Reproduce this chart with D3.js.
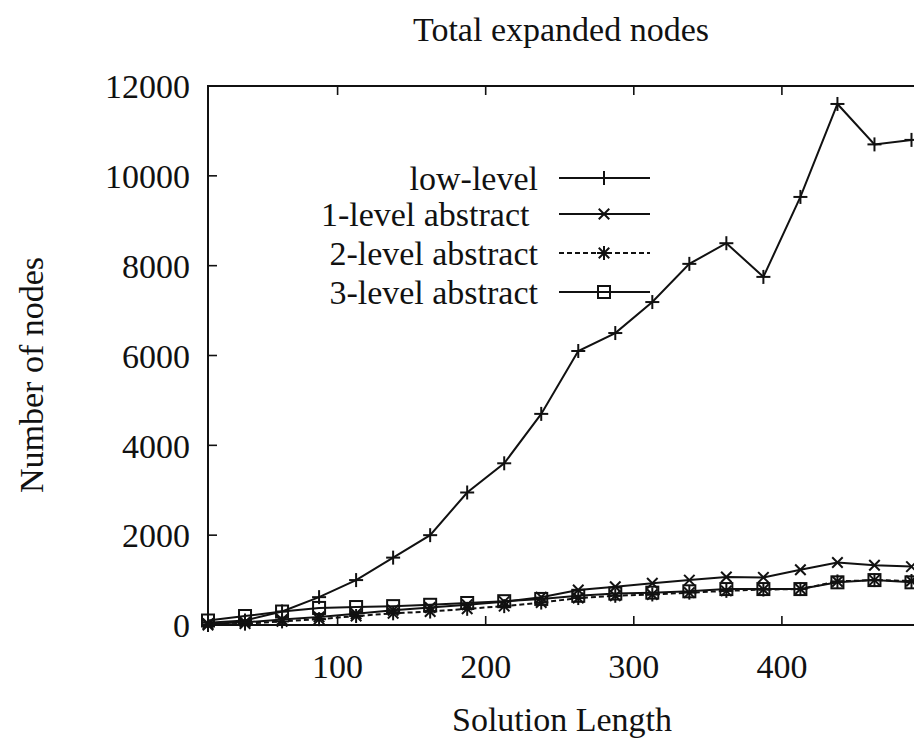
<!DOCTYPE html>
<html>
<head>
<meta charset="utf-8">
<script src="https://cdn.jsdelivr.net/npm/d3@7"></script>
<style>
  body { margin: 0; background: #fff; }
  text { font-family: "Liberation Serif", "DejaVu Serif", serif; fill: #111; }
</style>
</head>
<body>
<div id="chart"></div>
<script>
// solution length bins (x) and node counts per series
const lengths = [12.5, 37.5, 62.5, 87.5, 112.5, 137.5, 162.5, 187.5, 212.5, 237.5,
                 262.5, 287.5, 312.5, 337.5, 362.5, 387.5, 412.5, 437.5, 462.5, 487.5];
const lowLevel = [50, 100, 300, 620, 1000, 1500, 2000, 2950, 3600, 4700,
                  6100, 6500, 7190, 8040, 8500, 7750, 9530, 11600, 10700, 10800];
const level1 = [30, 60, 120, 180, 250, 330, 390, 450, 520, 620,
                780, 850, 930, 1000, 1070, 1060, 1230, 1390, 1330, 1300];
const level2 = [0, 30, 80, 130, 200, 260, 300, 360, 420, 500,
                600, 650, 680, 720, 760, 790, 800, 970, 1000, 980];
const level3 = [100, 200, 300, 380, 400, 420, 450, 490, 530, 580,
                650, 700, 720, 750, 800, 800, 800, 950, 1000, 950];
const seriesNames = ["low-level", "1-level abstract ", "2-level abstract", "3-level abstract"];
const xTicks = [100, 200, 300, 400];
const yTicks = [0, 2000, 4000, 6000, 8000, 10000, 12000];

const W = 914, H = 746;
const svg = d3.select("#chart").append("svg")
  .attr("width", W).attr("height", H)
  .style("background", "#fff");

const x = d3.scaleLinear().domain([12.5, 500]).range([208, 930]);
const y = d3.scaleLinear().domain([0, 12000]).range([625, 86]);

const tickLen = 9;
const fs = 34;

// frame
svg.append("rect")
  .attr("x", x(12.5)).attr("y", y(12000))
  .attr("width", x(500) - x(12.5)).attr("height", y(0) - y(12000))
  .attr("fill", "none").attr("stroke", "#111").attr("stroke-width", 2);

// ticks (mirrored, pointing inward)
xTicks.forEach(t => {
  svg.append("line").attr("x1", x(t)).attr("x2", x(t))
    .attr("y1", y(0)).attr("y2", y(0) - tickLen)
    .attr("stroke", "#111").attr("stroke-width", 1.6);
  svg.append("line").attr("x1", x(t)).attr("x2", x(t))
    .attr("y1", y(12000)).attr("y2", y(12000) + tickLen)
    .attr("stroke", "#111").attr("stroke-width", 1.6);
  svg.append("text").attr("x", x(t)).attr("y", 678)
    .attr("text-anchor", "middle").attr("font-size", fs).text(t);
});
yTicks.forEach(t => {
  svg.append("line").attr("x1", x(12.5)).attr("x2", x(12.5) + tickLen)
    .attr("y1", y(t)).attr("y2", y(t))
    .attr("stroke", "#111").attr("stroke-width", 1.6);
  svg.append("line").attr("x1", x(500)).attr("x2", x(500) - tickLen)
    .attr("y1", y(t)).attr("y2", y(t))
    .attr("stroke", "#111").attr("stroke-width", 1.6);
  svg.append("text").attr("x", 190).attr("y", y(t))
    .attr("dy", "0.36em")
    .attr("text-anchor", "end").attr("font-size", fs).text(t);
});

// titles
svg.append("text").attr("x", 561).attr("y", 41)
  .attr("text-anchor", "middle").attr("font-size", 34)
  .text("Total expanded nodes");
svg.append("text").attr("x", 562).attr("y", 731)
  .attr("text-anchor", "middle").attr("font-size", fs)
  .text("Solution Length");
svg.append("text")
  .attr("transform", "translate(43,375) rotate(-90)")
  .attr("text-anchor", "middle").attr("font-size", fs)
  .text("Number of nodes");

// markers
function drawMarker(g, type, cx, cy) {
  const s = 7;
  if (type === "plus" || type === "star") {
    g.append("line").attr("x1", cx - s).attr("x2", cx + s).attr("y1", cy).attr("y2", cy);
    g.append("line").attr("x1", cx).attr("x2", cx).attr("y1", cy - s).attr("y2", cy + s);
  }
  if (type === "cross" || type === "star") {
    const d = s * 0.75;
    g.append("line").attr("x1", cx - d).attr("x2", cx + d).attr("y1", cy - d).attr("y2", cy + d);
    g.append("line").attr("x1", cx - d).attr("x2", cx + d).attr("y1", cy + d).attr("y2", cy - d);
  }
  if (type === "square") {
    g.append("rect").attr("x", cx - 6).attr("y", cy - 6)
      .attr("width", 12).attr("height", 12).attr("fill", "none");
  }
}

const series = [
  { name: seriesNames[0], vals: lowLevel, marker: "plus", dash: null },
  { name: seriesNames[1], vals: level1, marker: "cross", dash: null },
  { name: seriesNames[2], vals: level2, marker: "star", dash: "5,3" },
  { name: seriesNames[3], vals: level3, marker: "square", dash: null }
];

const line = d3.line().x(d => x(d[0])).y(d => y(d[1]));

const plot = svg.append("g");
series.forEach(s => {
  const pts = lengths.map((l, i) => [l, s.vals[i]]);
  plot.append("path").datum(pts)
    .attr("d", line)
    .attr("fill", "none").attr("stroke", "#111").attr("stroke-width", 2)
    .attr("stroke-dasharray", s.dash);
  const mg = plot.append("g").attr("stroke", "#111").attr("stroke-width", 2);
  pts.forEach(p => drawMarker(mg, s.marker, x(p[0]), y(p[1])));
});

// legend
const legY = [178, 214, 253, 292];
series.forEach((s, i) => {
  svg.append("text").attr("x", 538).attr("y", legY[i])
    .attr("dy", "0.35em").attr("text-anchor", "end")
    .attr("xml:space", "preserve").style("white-space", "pre")
    .attr("font-size", 34).text(s.name);
  svg.append("line").attr("x1", 559).attr("x2", 650)
    .attr("y1", legY[i]).attr("y2", legY[i])
    .attr("stroke", "#111").attr("stroke-width", 2)
    .attr("stroke-dasharray", s.dash);
  const mg = svg.append("g").attr("stroke", "#111").attr("stroke-width", 2);
  drawMarker(mg, s.marker, 604, legY[i]);
});
</script>
</body>
</html>
